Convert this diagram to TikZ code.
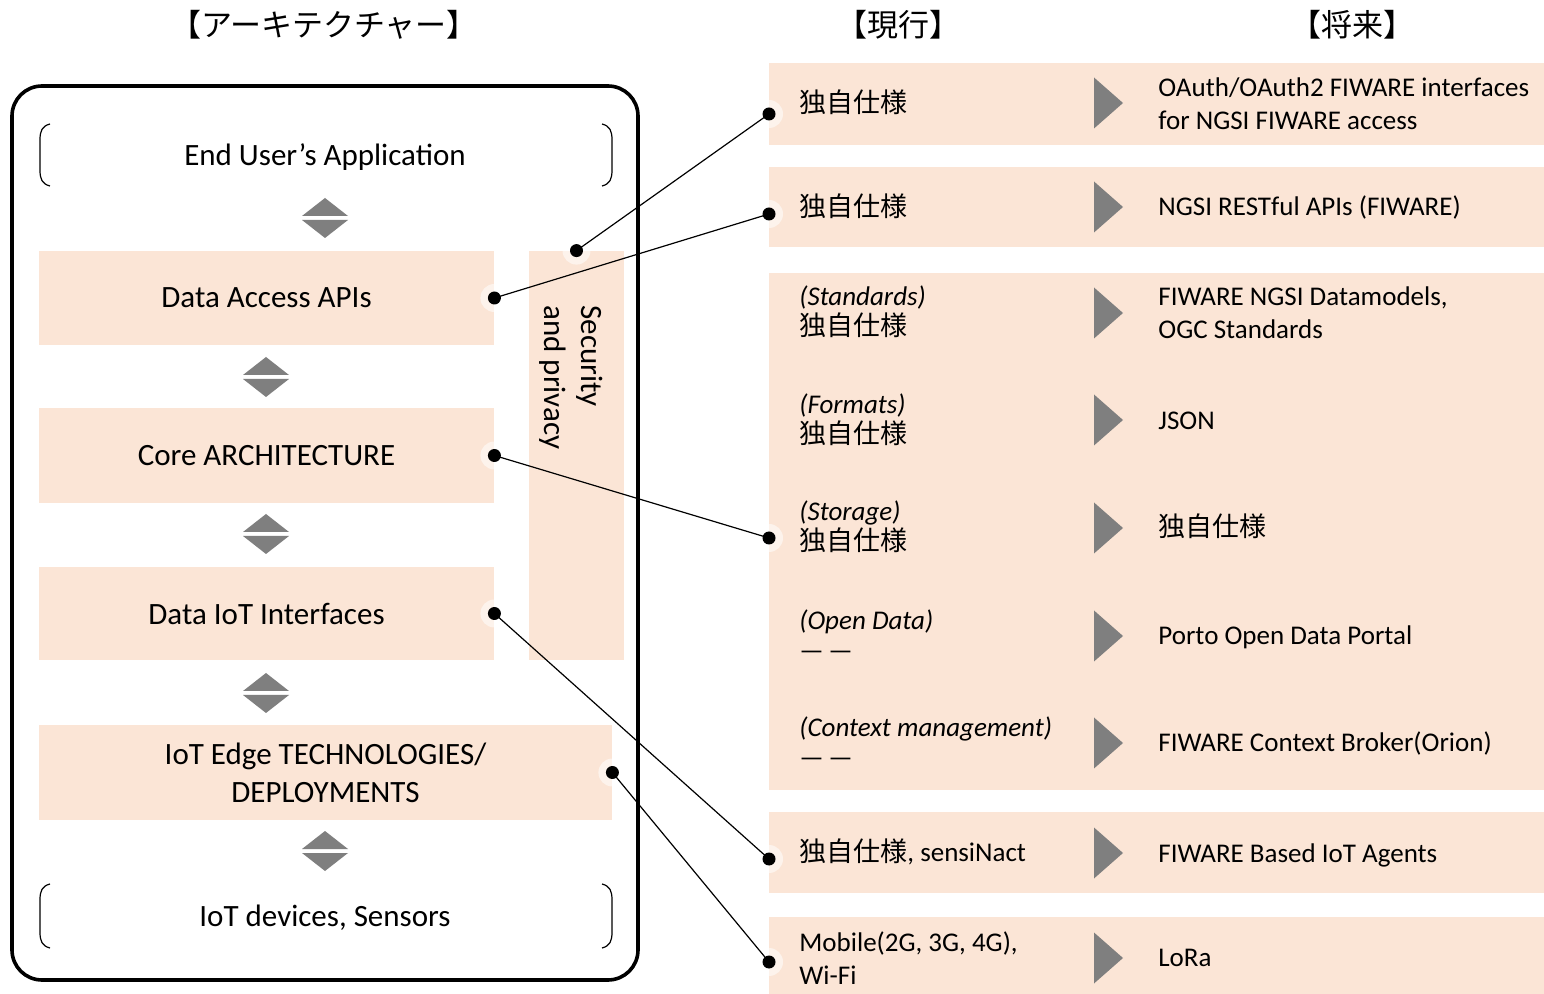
\documentclass[tikz,border=0pt]{standalone}
\usepackage{fontspec}
\setmainfont{Carlito}
\newfontfamily\jp{Noto Sans CJK JP}
\definecolor{peach}{HTML}{FBE5D6}
\definecolor{trigray}{HTML}{7F7F7F}
\begin{document}
\begin{tikzpicture}[x=0.5pt,y=-0.5pt,
  box/.style={fill=peach, draw=none, inner sep=0, align=center, font=\fontsize{15.5}{19}\selectfont},
  plain/.style={inner sep=0, align=center, font=\fontsize{15.5}{19}\selectfont},
  band/.style={fill=peach, draw=none, anchor=north west, inner sep=0, minimum width=387.5pt},
  cur/.style={anchor=west, inner sep=0, align=left, font=\fontsize{13.5}{15}\selectfont},
  fut/.style={anchor=west, inner sep=0, align=left, font=\fontsize{13.5}{16.5}\selectfont},
  hdr/.style={inner sep=0, font=\jp\fontsize{15.5}{18}\selectfont},
  link/.style={line width=0.6pt},
  dotfill/.style={fill=black},
  glow/.style={fill=white, opacity=0.55},
  frame/.style={line width=1.8pt, rounded corners=15pt},
  brk/.style={line width=0.6pt},
  updown/.pic={
    \fill[trigray] (-23,-2) -- (23,-2) -- (0,-20) -- cycle;
    \fill[trigray] (-23,2) -- (23,2) -- (0,20) -- cycle;
  },
  rtri/.pic={
    \fill[trigray] (0,-25.5) -- (29,0) -- (0,25.5) -- cycle;
  }
]
\useasboundingbox (0,0) rectangle (1544,994);
\fill[white] (0,0) rectangle (1544,994);

% headers
\node[hdr] (h1) at (324,25) {【アーキテクチャー】};
\node[hdr] (h2) at (898,25) {【現行】};
\node[hdr] (h3) at (1352,25) {【将来】};

% outer frame
\draw[frame] (12,86) rectangle (638,980);

% brackets
\draw[brk] (50,124) .. controls (42,126) and (40,131) .. (40,140) -- (40,170) .. controls (40,179) and (42,184) .. (50,186);
\draw[brk] (602,124) .. controls (610,126) and (612,131) .. (612,140) -- (612,170) .. controls (612,179) and (610,184) .. (602,186);
\node[plain] (app) at (325,157) {End User’s Application};

\draw[brk] (50,884) .. controls (42,886) and (40,891) .. (40,900) -- (40,932) .. controls (40,941) and (42,946) .. (50,948);
\draw[brk] (602,884) .. controls (610,886) and (612,891) .. (612,900) -- (612,932) .. controls (612,941) and (610,946) .. (602,948);
\node[plain] (dev) at (325,918) {IoT devices, Sensors};

% layer boxes
\node[box, minimum width=227.5pt, minimum height=47pt] (dapi) at (266.5,298) {Data Access APIs};
\node[box, minimum width=227.5pt, minimum height=47.5pt] (core) at (266.5,455.5) {Core ARCHITECTURE};
\node[box, minimum width=227.5pt, minimum height=46.5pt] (diot) at (266.5,613.5) {Data IoT Interfaces};
\node[box, minimum width=286.5pt, minimum height=47.5pt] (edge) at (325.5,772.5) {IoT Edge TECHNOLOGIES/\\DEPLOYMENTS};
\node[box, minimum width=47.5pt, minimum height=204.5pt] (sec) at (576.5,455.5) {};
\node[rotate=-90, anchor=west, align=left, inner sep=0, font=\fontsize{15.5}{18.6}\selectfont] (sectxt) at (571.5,305) {Security\\and privacy};

% diamonds
\pic at (325,218) {updown};
\pic at (266,377) {updown};
\pic at (266,534) {updown};
\pic at (266,693) {updown};
\pic at (325,851) {updown};

% right bands
\node[band, minimum height=41pt] (b1) at (769,63) {};
\node[band, minimum height=40pt] (b2) at (769,167) {};
\node[band, minimum height=258.5pt] (b3) at (769,273) {};
\node[band, minimum height=40.5pt] (b4) at (769,812) {};
\node[band, minimum height=38.5pt] (b5) at (769,917) {};

% arrows
\foreach \yy in {103,207,313,420,528,636,743,853,958} {
  \pic at (1094,\yy) {rtri};
}

% current texts
\node[cur] (c1) at (799,102) {{\jp 独自仕様}};
\node[cur] (c2) at (799,206) {{\jp 独自仕様}};
\node[cur] (c3) at (799,312) {\textit{(Standards)}\\{\jp 独自仕様}};
\node[cur] (c4) at (799,420) {\textit{(Formats)}\\{\jp 独自仕様}};
\node[cur] (c5) at (799,527) {\textit{(Storage)}\\{\jp 独自仕様}};
\node[cur] (c6) at (799,635) {\textit{(Open Data)}\\—\,—};
\node[cur] (c7) at (799,742) {\textit{(Context management)}\\—\,—};
\node[cur] (c8) at (799,852) {{\jp 独自仕様}, sensiNact};
\node[cur, font=\fontsize{13.5}{16.5}\selectfont] (c9) at (799,958) {Mobile(2G, 3G, 4G),\\Wi-Fi};

% future texts
\node[fut] (f1) at (1158,104) {OAuth/OAuth2 FIWARE interfaces\\for NGSI FIWARE access};
\node[fut] (f2) at (1158,208) {NGSI RESTful APIs (FIWARE)};
\node[fut] (f3) at (1158,313) {FIWARE NGSI Datamodels,\\OGC Standards};
\node[fut] (f4) at (1158,421) {JSON};
\node[fut] (f5) at (1158,526) {{\jp 独自仕様}};
\node[fut] (f6) at (1158,637) {Porto Open Data Portal};
\node[fut] (f7) at (1158,743) {FIWARE Context Broker(Orion)};
\node[fut] (f8) at (1158,855) {FIWARE Based IoT Agents};
\node[fut] (f9) at (1158,958) {LoRa};

% connector end points
\coordinate (r1) at (769,114);
\coordinate (r2) at (769,214);
\coordinate (r3) at (769,538);
\coordinate (r4) at (769,859);
\coordinate (r5) at (769,962);

\foreach \p in {sec.north,dapi.east,core.east,diot.east,edge.east,r1,r2,r3,r4,r5} {
  \fill[glow] (\p) circle (14);
}
\draw[link] (sec.north) -- (r1);
\draw[link] (dapi.east) -- (r2);
\draw[link] (core.east) -- (r3);
\draw[link] (diot.east) -- (r4);
\draw[link] (edge.east) -- (r5);
\foreach \p in {sec.north,dapi.east,core.east,diot.east,edge.east,r1,r2,r3,r4,r5} {
  \fill[dotfill] (\p) circle (6.5);
}
\end{tikzpicture}
\end{document}
